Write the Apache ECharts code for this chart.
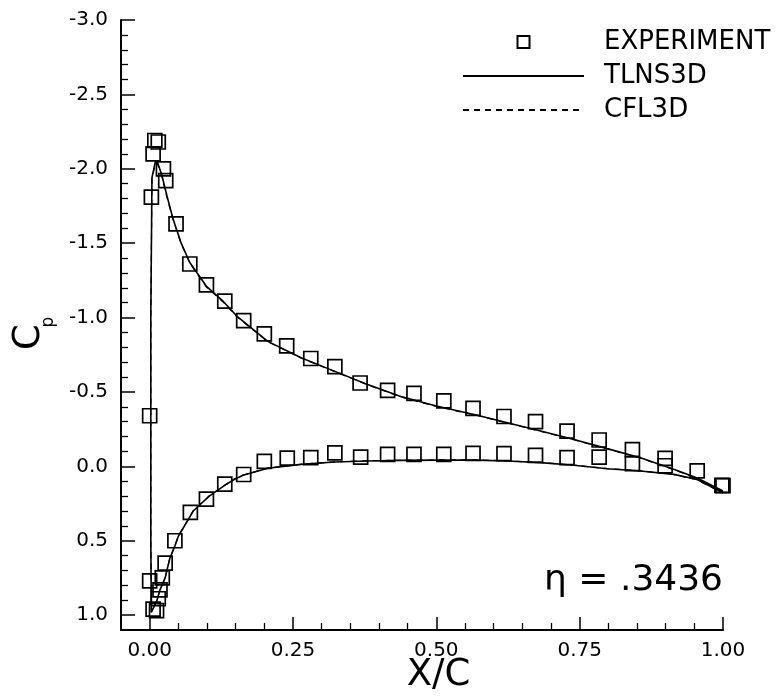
<!DOCTYPE html>
<html lang="en">
<head>
    <meta charset="UTF-8">
    <title>Cp distribution, eta = .3436</title>
    <style>
      * {
          padding: 0;
          margin: 0;
      }
      body { background: #fff; }
   </style>
</head>
<body>
    <div id="main" style="width: 783px;height:698px;"></div>
    <script src="https://cdn.jsdelivr.net/npm/echarts@6/dist/echarts.min.js"></script>
    <script>
    // experiment: upper surface LE -> TE, then lower surface LE -> TE
    var expX = [0.000, 0.003, 0.006, 0.009, 0.015, 0.024, 0.028, 0.046, 0.070, 0.099, 0.131, 0.164, 0.200, 0.239, 0.281,
                0.323, 0.367, 0.415, 0.461, 0.513, 0.564, 0.618, 0.673, 0.728, 0.784, 0.842, 0.899, 0.955, 0.998,
                0.000, 0.006, 0.012, 0.015, 0.018, 0.022, 0.027, 0.044, 0.071, 0.099, 0.131, 0.164, 0.200, 0.240,
                0.281, 0.323, 0.368, 0.415, 0.461, 0.513, 0.564, 0.618, 0.673, 0.728, 0.784, 0.842, 0.899, 1.000];
    var expCp = [-0.34, -1.81, -2.10, -2.19, -2.18, -2.00, -1.92, -1.63, -1.36, -1.22, -1.11, -0.98, -0.89, -0.81, -0.725,
                 -0.67, -0.56, -0.51, -0.49, -0.44, -0.39, -0.335, -0.30, -0.237, -0.177, -0.112, -0.054, 0.031, 0.128,
                 0.77, 0.96, 0.97, 0.89, 0.83, 0.75, 0.65, 0.50, 0.31, 0.22, 0.12, 0.055, -0.033, -0.055,
                 -0.058, -0.09, -0.062, -0.081, -0.081, -0.081, -0.087, -0.085, -0.074, -0.058, -0.062, -0.018, -0.004, 0.13];

    // TLNS3D: TE upper -> LE -> TE lower
    var tlnsX = [1.000, 0.954, 0.914, 0.856, 0.798, 0.740, 0.682, 0.624, 0.566, 0.500, 0.438, 0.380, 0.322, 0.264, 0.206,
                 0.152, 0.128, 0.099, 0.070, 0.055, 0.041, 0.030, 0.021, 0.014, 0.010, 0.004, 0.002, 0.002, 0.003,
                 0.006, 0.012, 0.018, 0.027, 0.035, 0.044, 0.050, 0.067, 0.076, 0.090, 0.104, 0.134, 0.148, 0.163,
                 0.206, 0.264, 0.322, 0.380, 0.438, 0.508, 0.566, 0.624, 0.682, 0.740, 0.798, 0.856, 0.914, 0.954, 1.000];
    var tlnsCp = [0.166, 0.076, 0.020, -0.058, -0.119, -0.181, -0.237, -0.293, -0.349, -0.405, -0.47, -0.55, -0.64, -0.73, -0.84,
                  -1.01, -1.11, -1.21, -1.37, -1.50, -1.66, -1.82, -1.96, -2.04, -2.05, -1.94, -1.00, 0.50, 0.98,
                  0.99, 0.91, 0.83, 0.75, 0.62, 0.535, 0.47, 0.36, 0.30, 0.25, 0.20, 0.12, 0.087, 0.06,
                  0.013, -0.013, -0.029, -0.036, -0.040, -0.042, -0.042, -0.036, -0.025, -0.007, 0.016, 0.031, 0.054, 0.087, 0.177];

    // CFL3D: almost on top of TLNS3D
    var cflX = [1.000, 0.954, 0.914, 0.856, 0.798, 0.740, 0.682, 0.624, 0.566, 0.500, 0.438, 0.380, 0.322, 0.264, 0.206,
                0.152, 0.128, 0.099, 0.070, 0.055, 0.041, 0.030, 0.021, 0.014, 0.010, 0.004, 0.002, 0.002, 0.003,
                0.006, 0.012, 0.018, 0.027, 0.035, 0.044, 0.050, 0.067, 0.076, 0.090, 0.104, 0.134, 0.148, 0.163,
                0.206, 0.264, 0.322, 0.380, 0.438, 0.508, 0.566, 0.624, 0.682, 0.740, 0.798, 0.856, 0.914, 0.954, 1.000];
    var cflCp = [0.172, 0.080, 0.022, -0.056, -0.117, -0.179, -0.235, -0.291, -0.347, -0.402, -0.467, -0.548, -0.638, -0.728, -0.838,
                 -1.005, -1.105, -1.205, -1.365, -1.495, -1.655, -1.81, -1.95, -2.03, -2.04, -1.93, -1.00, 0.50, 0.98,
                 0.99, 0.91, 0.83, 0.75, 0.62, 0.533, 0.468, 0.358, 0.298, 0.248, 0.198, 0.118, 0.085, 0.058,
                 0.012, -0.014, -0.030, -0.037, -0.041, -0.043, -0.043, -0.037, -0.026, -0.008, 0.015, 0.030, 0.055, 0.090, 0.180];

    var xMajor = [0.00, 0.25, 0.50, 0.75, 1.00];
    var yMajor = [-3.0, -2.5, -2.0, -1.5, -1.0, -0.5, 0.0, 0.5, 1.0];

    // minor tick positions (0.05 on x, 0.1 on y), skipping the majors
    var xMinor = [], yMinor = [];
    for (var i = 1; i < 20; i++) { if (i % 5) xMinor.push(+(i * 0.05).toFixed(2)); }
    for (var j = -30; j <= 10; j++) { if (j % 5) yMinor.push(j / 10); }

    function pairs(xs, ys) {
        return xs.map(function (x, k) { return [x, ys[k]]; });
    }

    var black = '#000';
    var font = 'DejaVu Sans';
    // line legend entries: hide the dot that the line legend icon adds
    var noDot = { color: 'rgba(0,0,0,0)', borderWidth: 0, opacity: 0 };

    var option = {
        backgroundColor: '#fff',
        animation: false,
        grid: { left: 121, right: 60, top: 20, bottom: 68, outerBoundsMode: 'none' },
        legend: {
            orient: 'vertical',
            left: 462,
            top: 29,
            padding: 0,
            itemWidth: 121,
            itemHeight: 12,
            itemGap: 8,
            selectedMode: false,
            symbolKeepAspect: true,
            data: [
                { name: 'EXPERIMENT', icon: 'path://M0,0H10V10H0Z' },
                { name: 'TLNS3D', itemStyle: noDot },
                { name: 'CFL3D', itemStyle: noDot }
            ],
            textStyle: { color: black, fontSize: 26, fontFamily: font, lineHeight: 26, padding: [0, 0, 0, 15] }
        },
        xAxis: [
            {
                type: 'value', min: -0.05, max: 1.0, position: 'bottom',
                axisLine: { onZero: false, lineStyle: { color: black, width: 2 } },
                axisTick: { inside: true, length: 13, customValues: xMajor, lineStyle: { color: black, width: 1.5 } },
                axisLabel: {
                    customValues: xMajor, color: black, fontSize: 20, fontFamily: font, margin: 11,
                    formatter: function (v) { return v.toFixed(2); }
                },
                splitLine: { show: false },
                name: 'X/C', nameLocation: 'middle', nameGap: 27, nameMoveOverlap: false,
                nameTextStyle: { color: black, fontSize: 37, fontFamily: font, padding: [0, 0, 0, 33] }
            },
            {
                type: 'value', min: -0.05, max: 1.0, position: 'bottom',
                axisLine: { show: false, onZero: false },
                axisTick: { inside: true, length: 7, customValues: xMinor, lineStyle: { color: black, width: 1.3 } },
                axisLabel: { show: false },
                splitLine: { show: false }
            }
        ],
        yAxis: [
            {
                type: 'value', inverse: true, min: -3.0, max: 1.1, position: 'left',
                axisLine: { onZero: false, lineStyle: { color: black, width: 2 } },
                axisTick: { inside: true, length: 14, customValues: yMajor, lineStyle: { color: black, width: 1.5 } },
                axisLabel: {
                    customValues: yMajor, color: black, fontSize: 20, fontFamily: font, margin: 13,
                    formatter: function (v) { return v.toFixed(1); }
                },
                splitLine: { show: false }
            },
            {
                type: 'value', inverse: true, min: -3.0, max: 1.1, position: 'left',
                axisLine: { show: false, onZero: false },
                axisTick: { inside: true, length: 7, customValues: yMinor, lineStyle: { color: black, width: 1.3 } },
                axisLabel: { show: false },
                splitLine: { show: false }
            }
        ],
        graphic: [
            {
                type: 'text', x: 29, y: 337, rotation: Math.PI / 2,
                style: { text: 'C', fontSize: 37, fontFamily: font, fill: black, align: 'center', verticalAlign: 'middle' }
            },
            {
                type: 'text', x: 49, y: 322, rotation: Math.PI / 2,
                style: { text: 'p', fontSize: 17, fontFamily: font, fill: black, align: 'center', verticalAlign: 'middle' }
            },
            {
                type: 'text', x: 723, y: 581,
                style: { text: 'η = .3436', fontSize: 36, fontFamily: font, fill: black, align: 'right', verticalAlign: 'middle' }
            }
        ],
        series: [
            {
                name: 'TLNS3D', type: 'line', symbol: 'none',
                data: pairs(tlnsX, tlnsCp),
                lineStyle: { color: black, width: 1.6 },
                itemStyle: { color: black }
            },
            {
                name: 'CFL3D', type: 'line', symbol: 'none',
                data: pairs(cflX, cflCp),
                lineStyle: { color: black, width: 1.2, type: [6, 5] },
                itemStyle: { color: black }
            },
            {
                name: 'EXPERIMENT', type: 'scatter', symbol: 'rect', symbolSize: 14,
                data: pairs(expX, expCp),
                itemStyle: { color: 'rgba(0,0,0,0)', borderColor: black, borderWidth: 1.7, opacity: 1 }
            }
        ]
    };

    var myChart = echarts.init(document.getElementById('main'));
    myChart.setOption(option);
    </script>
</body>
</html>
